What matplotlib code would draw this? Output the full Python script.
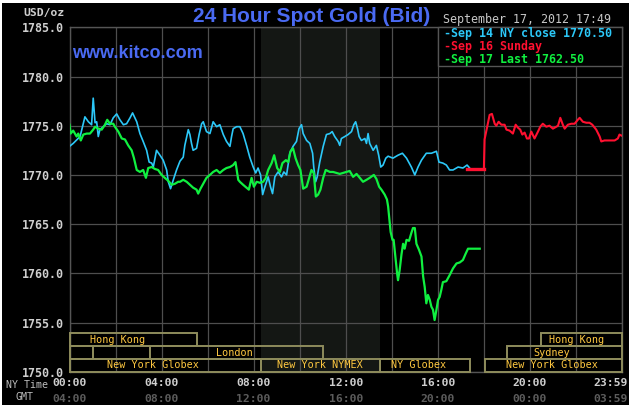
import matplotlib
matplotlib.use('Agg')
import matplotlib.pyplot as plt
from matplotlib.patches import Rectangle
import matplotlib.transforms as mtransforms

# ---------------- data ----------------
sep14_h = [0.00, 0.16, 0.46, 0.67, 0.82, 0.96, 1.03, 1.11, 1.18, 1.25, 1.32, 1.47, 1.61, 1.76, 1.90,
           2.05, 2.19, 2.34, 2.48, 2.63, 2.74, 2.92, 3.06, 3.20, 3.35, 3.46, 3.57, 3.64, 3.78, 3.93,
           4.07, 4.22, 4.29, 4.39, 4.51, 4.65, 4.80, 4.94, 5.01, 5.16, 5.23, 5.30, 5.37, 5.52, 5.63,
           5.74, 5.81, 5.95, 6.10, 6.24, 6.39, 6.53, 6.68, 6.82, 6.97, 7.04, 7.11, 7.26, 7.40, 7.54,
           7.69, 7.83, 7.98, 8.09, 8.19, 8.30, 8.39, 8.49, 8.63, 8.73, 8.82, 8.92, 9.06, 9.21, 9.31,
           9.43, 9.57, 9.71, 9.86, 9.97, 10.08, 10.15, 10.30, 10.44, 10.56, 10.61, 10.69, 10.76, 10.87,
           11.02, 11.16, 11.31, 11.41, 11.52, 11.67, 11.74, 11.81, 11.96, 12.10, 12.25, 12.35, 12.43,
           12.51, 12.58, 12.68, 12.83, 12.90, 12.97, 13.04, 13.19, 13.33, 13.43, 13.52, 13.62, 13.74,
           13.84, 14.05, 14.27, 14.46, 14.64, 14.85, 15.00, 15.14, 15.29, 15.50, 15.72, 15.94, 16.05,
           16.22, 16.37, 16.51, 16.66, 16.88, 17.09, 17.27, 17.38]
sep14_v = [1772.9, 1773.2, 1773.9, 1775.9, 1775.4, 1775.1, 1777.8, 1775.3, 1775.4, 1773.9, 1774.6,
           1774.9, 1775.2, 1775.1, 1775.8, 1776.2, 1775.6, 1775.1, 1775.2, 1775.8, 1776.3, 1775.4,
           1774.2, 1773.4, 1772.5, 1771.3, 1771.2, 1770.8, 1772.5, 1772.0, 1771.5, 1770.5, 1769.3,
           1768.6, 1769.5, 1770.5, 1771.4, 1771.8, 1773.0, 1774.6, 1774.1, 1773.2, 1772.5, 1772.7,
           1774.1, 1775.2, 1775.4, 1774.4, 1774.2, 1775.4, 1774.9, 1775.1, 1774.1, 1773.4, 1772.9,
           1773.9, 1774.7, 1774.9, 1774.9, 1774.2, 1773.0, 1771.8, 1770.8, 1770.2, 1770.7, 1770.0,
           1768.0, 1768.8, 1769.8, 1768.8, 1768.1, 1769.8, 1770.3, 1769.8, 1770.3, 1770.0, 1772.2,
           1772.9, 1773.4, 1774.7, 1775.1, 1774.2, 1773.5, 1773.2, 1772.2, 1770.8, 1769.3, 1769.8,
           1771.3, 1772.9, 1774.1, 1774.2, 1774.4, 1773.9, 1773.4, 1773.0, 1773.7, 1773.9, 1774.1,
           1774.4, 1775.1, 1775.4, 1774.7, 1773.9, 1773.5, 1773.7, 1773.2, 1774.2, 1773.2, 1772.5,
           1773.0, 1772.0, 1770.8, 1771.0, 1771.7, 1771.9, 1771.7, 1772.0, 1772.2, 1771.7, 1770.8,
           1770.0, 1770.8, 1771.5, 1772.2, 1772.2, 1772.4, 1771.3, 1771.2, 1771.0, 1770.5, 1770.5,
           1770.8, 1770.7, 1771.0, 1770.7]

sep16_h = [17.27, 18.00, 18.03, 18.25, 18.35, 18.47, 18.54, 18.64, 18.76, 18.90, 18.98, 19.12, 19.26,
           19.38, 19.48, 19.58, 19.67, 19.77, 19.87, 19.96, 20.06, 20.20, 20.35, 20.45, 20.56, 20.71,
           20.85, 21.00, 21.15, 21.22, 21.32, 21.43, 21.51, 21.65, 21.80, 21.94, 22.08, 22.16, 22.30,
           22.45, 22.59, 22.71, 22.88, 23.03, 23.10, 23.24, 23.39, 23.53, 23.68, 23.82, 23.89, 23.97]
sep16_v = [1770.57, 1770.57, 1773.6, 1776.1, 1776.2, 1775.2, 1775.0, 1775.4, 1775.1, 1775.1, 1774.6,
           1774.5, 1774.2, 1775.1, 1774.8, 1774.6, 1774.1, 1774.3, 1773.7, 1773.7, 1774.4, 1773.7,
           1774.4, 1774.9, 1775.2, 1774.9, 1775.0, 1774.7, 1774.9, 1775.0, 1775.8, 1775.1, 1774.7,
           1775.1, 1775.2, 1775.2, 1775.6, 1775.8, 1775.4, 1775.3, 1775.3, 1775.1, 1774.6, 1773.9,
           1773.4, 1773.5, 1773.5, 1773.5, 1773.5, 1773.7, 1774.1, 1774.0]

sep17_h = [0.00, 0.05, 0.16, 0.31, 0.38, 0.49, 0.60, 0.75, 0.89, 1.03, 1.11, 1.25, 1.40, 1.54, 1.64,
           1.76, 1.90, 1.97, 2.12, 2.27, 2.41, 2.55, 2.70, 2.80, 2.92, 3.06, 3.20, 3.32, 3.42, 3.57,
           3.71, 3.85, 4.00, 4.14, 4.29, 4.44, 4.58, 4.72, 4.80, 4.94, 5.09, 5.23, 5.37, 5.52, 5.59,
           5.69, 5.81, 5.95, 6.10, 6.24, 6.39, 6.53, 6.68, 6.82, 6.97, 7.11, 7.21, 7.33, 7.40, 7.54,
           7.69, 7.79, 7.91, 8.01, 8.13, 8.27, 8.41, 8.53, 8.63, 8.78, 8.89, 9.02, 9.14, 9.25, 9.40,
           9.50, 9.60, 9.71, 9.82, 9.93, 10.03, 10.15, 10.30, 10.51, 10.61, 10.70, 10.80, 10.90, 11.02,
           11.13, 11.31, 11.45, 11.60, 11.74, 11.88, 12.03, 12.17, 12.32, 12.47, 12.61, 12.75, 12.90,
           13.04, 13.22, 13.33, 13.45, 13.55, 13.69, 13.79, 13.84, 13.91, 13.95, 14.03, 14.08, 14.17,
           14.23, 14.27, 14.34, 14.42, 14.49, 14.56, 14.64, 14.75, 14.85, 14.92, 15.00, 15.07, 15.18,
           15.29, 15.36, 15.43, 15.50, 15.57, 15.65, 15.72, 15.79, 15.86, 15.94, 16.01, 16.08, 16.15,
           16.22, 16.37, 16.51, 16.66, 16.81, 16.95, 17.09, 17.21, 17.31, 17.53, 17.82]
sep17_v = [1775.1, 1774.2, 1774.5, 1773.9, 1774.2, 1773.5, 1774.1, 1774.2, 1774.2, 1774.6, 1774.9,
           1774.7, 1774.6, 1775.1, 1775.6, 1775.2, 1775.2, 1774.9, 1774.4, 1773.7, 1773.6, 1773.0,
           1772.5, 1771.7, 1770.5, 1770.3, 1770.5, 1769.7, 1770.7, 1770.8, 1770.6, 1770.5, 1770.0,
           1769.7, 1769.4, 1769.0, 1769.1, 1769.3, 1769.3, 1769.5, 1769.3, 1769.0, 1768.7, 1768.5,
           1768.1, 1768.6, 1769.1, 1769.7, 1770.0, 1770.3, 1770.5, 1770.2, 1770.5, 1770.7, 1770.8,
           1771.0, 1771.3, 1769.5, 1769.3, 1769.0, 1768.7, 1768.5, 1769.7, 1768.8, 1769.3, 1769.2,
           1769.3, 1769.7, 1770.5, 1771.2, 1772.0, 1770.7, 1770.3, 1771.2, 1771.5, 1771.3, 1772.4,
           1772.7, 1771.7, 1771.0, 1770.5, 1768.6, 1768.8, 1770.5, 1770.2, 1767.8, 1768.0, 1768.5,
           1769.7, 1770.5, 1770.3, 1770.3, 1770.2, 1770.1, 1770.2, 1770.3, 1770.4, 1769.8, 1770.1,
           1769.7, 1769.3, 1769.5, 1769.7, 1770.0, 1769.6, 1768.8, 1768.5, 1768.0, 1767.5, 1766.8,
           1765.1, 1764.2, 1763.4, 1763.4, 1761.4, 1760.0, 1759.3, 1760.3, 1761.9, 1763.0, 1762.5,
           1763.4, 1763.3, 1764.1, 1764.6, 1764.6, 1763.0, 1762.4, 1761.7, 1759.7, 1758.6, 1756.95,
           1757.8, 1757.3, 1756.6, 1756.3, 1755.25, 1756.3, 1757.3, 1757.6, 1758.3, 1759.1, 1759.2,
           1759.8, 1760.5, 1761.0, 1761.1, 1761.35, 1762.0, 1762.5, 1762.5, 1762.5]

legend_labels = ['Sep 14 NY close 1770.50', 'Sep 16 Sunday', 'Sep 17 Last 1762.50']
y_ticks = [1750, 1755, 1760, 1765, 1770, 1775, 1780, 1785]
x_ticks = [0, 4, 8, 12, 16, 20, 24]
ny_labels = ['00:00', '04:00', '08:00', '12:00', '16:00', '20:00', '23:59']
gmt_labels = ['04:00', '08:00', '12:00', '16:00', '20:00', '00:00', '03:59']

session_row = [1, 1, 2, 2, 2, 2, 3, 3, 3, 3]
session_start = [0, 20.5, 0, 1.0, 3.5, 19.0, 0, 8.333, 13.5, 18.05]
session_end = [5.53, 24, 1.0, 3.5, 11.0, 24, 8.333, 13.5, 17.39, 24]
session_name = ['Hong Kong', 'Hong Kong', '', '', 'London', 'Sydney',
                'New York Globex', 'New York NYMEX', 'NY Globex', 'New York Globex']
nymex_open, nymex_close = 8.333, 13.5

# ---------------- figure ----------------
W, H = 631, 408
fig = plt.figure(figsize=(W / 100, H / 100), dpi=100, facecolor='white')
fig.patches.append(Rectangle((2 / W, 3 / H), (W - 4) / W, (H - 6) / H, transform=fig.transFigure,
                             facecolor='black', edgecolor='none', zorder=-5))

def px(x, y):
    return x / W, 1 - y / H

L, R, T, B = 69.5, 622.0, 27.3, 371.7
ax = fig.add_axes([L / W, (H - B) / H, (R - L) / W, (B - T) / H])
ax.set_facecolor('black')
ax.set_xlim(0, 24)
ax.set_ylim(1750, 1785)
for s in ax.spines.values():
    s.set_color('#555555')
    s.set_linewidth(1.0)

mono = 'DejaVu Sans Mono'
sans = 'Liberation Sans'
grey = '#cfcfcf'

ax.axvspan(nymex_open, nymex_close, color='#141714', zorder=0, lw=0)
ax.set_xticks(range(0, 25, 2))
ax.set_yticks(y_ticks)
ax.grid(True, color='#4e4e4e', lw=0.9, zorder=1)
ax.set_axisbelow(True)
ax.tick_params(length=0, labelbottom=False)
ax.set_yticklabels([f'{v:.1f}' for v in y_ticks], fontfamily=mono, fontweight='bold',
                   fontsize=8.4, color=grey)
ax.tick_params(axis='y', pad=4)

ax.plot(sep14_h, sep14_v, color='#2cc8f8', lw=1.2, zorder=3)
ax.plot(sep16_h, sep16_v, color='#ff1030', lw=1.5, zorder=3)
ax.plot(sep16_h[:2], sep16_v[:2], color='#ff1030', lw=2.4, zorder=3)
ax.plot(sep17_h, sep17_v, color='#10f040', lw=1.6, zorder=4)

# sessions
tr = mtransforms.blended_transform_factory(ax.transData, ax.transAxes)
row_h = 12.8 / (B - T)
# text anchor (pixel x of label centre, as seen in the original)
label_px = [118, 577, None, None, 234, 552, 153, 320, 419, 552]
for r, s0, s1, name, lp in zip(session_row, session_start, session_end, session_name, label_px):
    y0 = (3 - r) * row_h
    ax.add_patch(Rectangle((s0, y0), s1 - s0, row_h, transform=tr, facecolor='none',
                           edgecolor='#8e8c5c', lw=1.4, zorder=5, clip_on=False))
    if name:
        fx = (lp - L) / (R - L)
        ax.text(fx, y0 + row_h / 2, name, transform=ax.transAxes, ha='center', va='center',
                fontfamily=mono, fontsize=7.3, color='#ffc840', zorder=6)

# x labels
for h, ny, gm in zip(x_ticks, ny_labels, gmt_labels):
    xx = h if h < 24 else 24 - 11 / 23.02
    ax.text(xx, -(383 - B) / (B - T), ny, transform=tr, ha='center', va='center',
            fontfamily=mono, fontweight='bold', fontsize=8.2, color=grey)
    ax.text(xx, -(399 - B) / (B - T), gm, transform=tr, ha='center', va='center',
            fontfamily=mono, fontweight='bold', fontsize=8.2, color='#5c5c5c')
fig.text(*px(27, 385), 'NY Time', ha='center', va='center', fontfamily=mono, fontsize=7.2,
         color='#bdbdbd')
fig.text(*px(24, 397), 'GMT', ha='center', va='center', fontfamily=mono, fontsize=7.2,
         color='#bdbdbd')
fig.text(*px(65, 13.3), 'USD/oz', ha='right', va='center', fontfamily=mono, fontweight='bold',
         fontsize=8.2, color=grey)

# titles
fig.text(*px(312, 16), '24 Hour Spot Gold (Bid)', ha='center', va='center', fontfamily=sans,
         fontweight='bold', fontsize=15, color='#4a6af2')
fig.text(*px(72, 53), 'www.kitco.com', ha='left', va='center', fontfamily=sans,
         fontweight='bold', fontsize=13, color='#4a6af2')
fig.text(*px(527, 19.5), 'September 17, 2012 17:49', ha='center', va='center', fontfamily=mono,
         fontsize=8.4, color='#c8c8c8')

# legend box
lx0 = (438 - L) / (R - L)
ly0 = (B - 66) / (B - T)
ax.add_patch(Rectangle((lx0, ly0), 1 - lx0, 1 - ly0, transform=ax.transAxes, facecolor='black',
                       edgecolor='#555555', lw=1.0, zorder=7, clip_on=False))
leg_colors = ['#2cc8f8', '#ff1030', '#10f040']
for i, (lab, c) in enumerate(zip(legend_labels, leg_colors)):
    fig.text(*px(444, 34 + 12.5 * i), '-' + lab, ha='left', va='center', fontfamily=mono,
             fontweight='bold', fontsize=8.4, color=c, zorder=10)

fig.savefig('out.png', dpi=100, facecolor=fig.get_facecolor())
